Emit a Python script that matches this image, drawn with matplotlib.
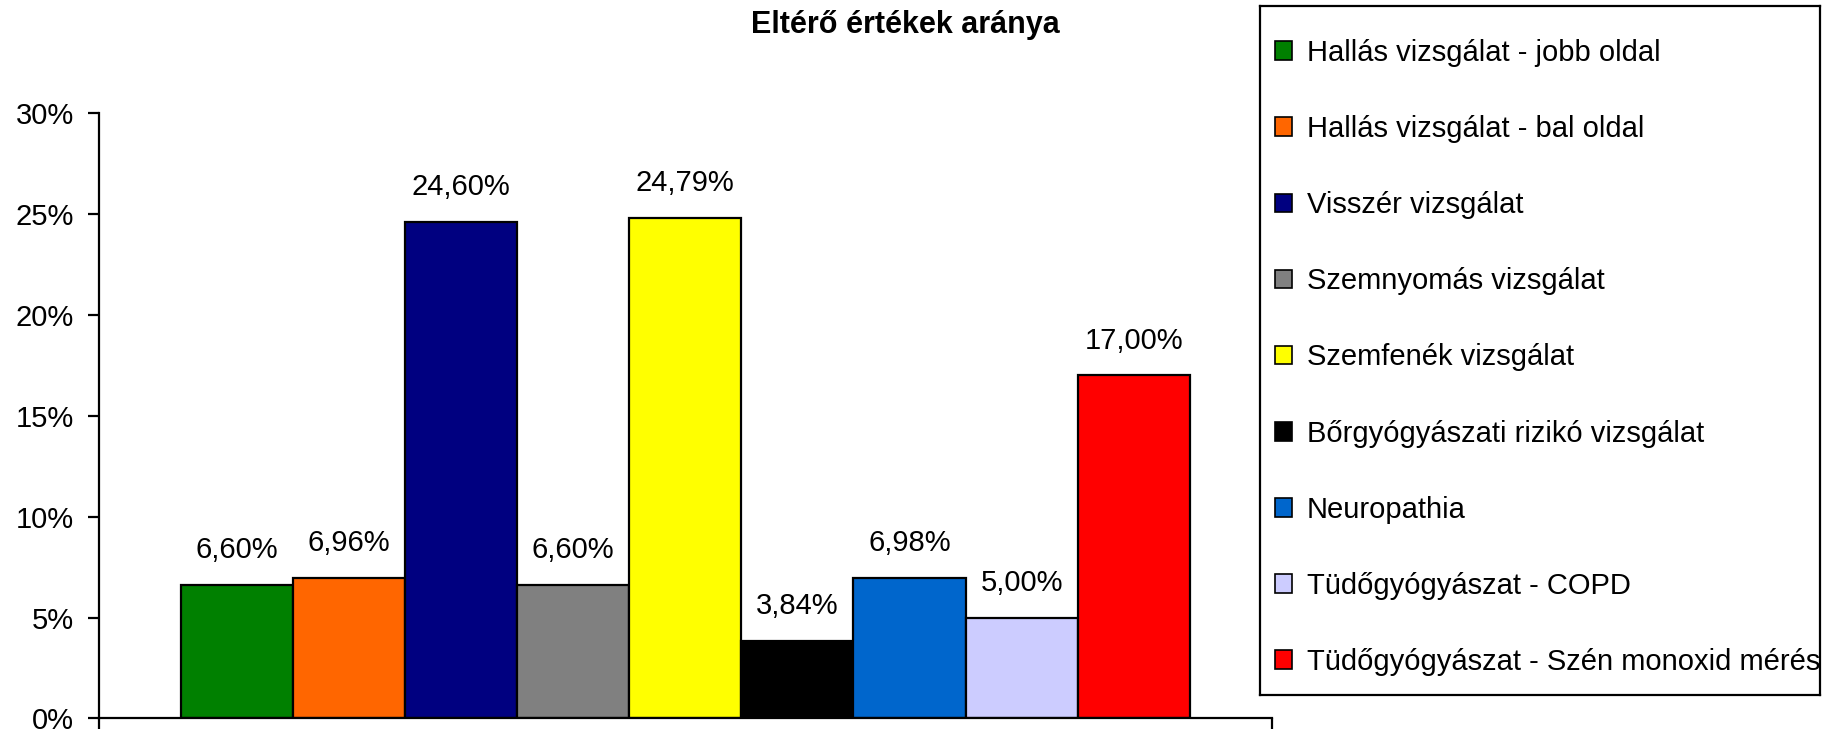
import matplotlib.pyplot as plt
from matplotlib.patches import Patch

plt.rcParams['font.family'] = ['Liberation Sans', 'DejaVu Sans']

labels = ['Hallás vizsgálat - jobb oldal', 'Hallás vizsgálat - bal oldal',
          'Visszér vizsgálat', 'Szemnyomás vizsgálat', 'Szemfenék vizsgálat',
          'Bőrgyógyászati rizikó vizsgálat', 'Neuropathia',
          'Tüdőgyógyászat - COPD', 'Tüdőgyógyászat - Szén monoxid mérés']
values = [6.60, 6.96, 24.60, 6.60, 24.79, 3.84, 6.98, 5.00, 17.00]
colors = ['#008000', '#FF6600', '#000080', '#808080', '#FFFF00',
          '#000000', '#0066CC', '#CCCCFF', '#FF0000']
yticks = [0, 5, 10, 15, 20, 25, 30]

fig = plt.figure(figsize=(18.26, 7.31), dpi=100)
ax = fig.add_axes([0.0542, 0.0171, 0.6422, 0.8283])

pos = list(range(len(values)))
ax.bar(pos, values, width=1.0, color=colors, edgecolor='black', linewidth=1.6)
for x, v in zip(pos, values):
    ax.annotate(f'{v:.2f}'.replace('.', ',') + '%', (x, v),
                xytext=(0, 15), textcoords='offset points',
                ha='center', va='bottom', fontsize=21)

ax.set_xlim(-1.23, 9.23)
ax.set_ylim(0, 30)
ax.set_yticks(yticks)
ax.set_yticklabels([f'{t}%' for t in yticks], fontsize=21)
ax.set_xticks([-1.23, 9.23])
ax.set_xticklabels([])
ax.tick_params(axis='both', direction='out', length=8, width=1.6, pad=10)
for s in ['top', 'right']:
    ax.spines[s].set_visible(False)
for s in ['left', 'bottom']:
    ax.spines[s].set_linewidth(1.6)

fig.text(0.496, 0.966, 'Eltérő értékek aránya', ha='center', va='center',
         fontsize=22, fontweight='bold')

ax_leg = fig.add_axes([0.690, 0.049, 0.3065, 0.943])
ax_leg.set_xticks([])
ax_leg.set_yticks([])
for s in ax_leg.spines.values():
    s.set_linewidth(1.6)
handles = [Patch(facecolor=c, edgecolor='black', linewidth=1.2) for c in colors]
ax_leg.legend(handles, labels, loc='center left', bbox_to_anchor=(0.0, 0.49),
              frameon=False, fontsize=21,
              handlelength=0.6, handleheight=0.6, handletextpad=0.5,
              labelspacing=1.65, borderaxespad=0.1)

fig.savefig('out.png', dpi=100)
